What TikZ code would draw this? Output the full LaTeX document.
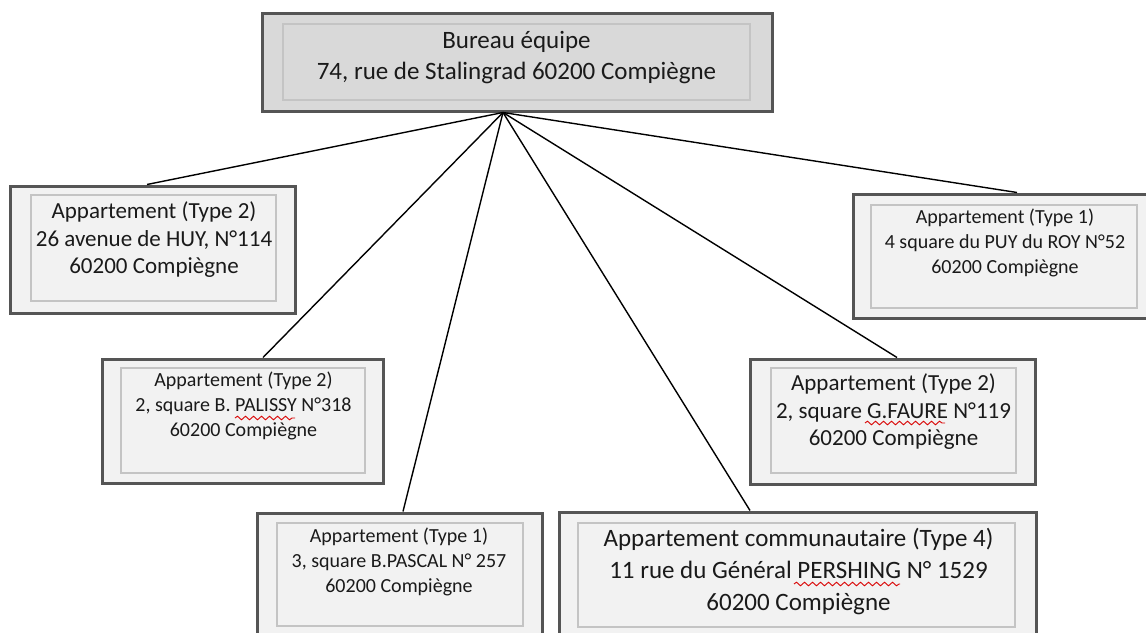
\documentclass[tikz,border=0pt]{standalone}
\usepackage{fontspec}
\setmainfont{Carlito}
\usetikzlibrary{decorations.pathmorphing}
\definecolor{outerc}{HTML}{555555}
\definecolor{innerc}{HTML}{C4C4C4}
\definecolor{topfill}{HTML}{D9D9D9}
\definecolor{aptfill}{HTML}{F2F2F2}
\definecolor{txtc}{HTML}{1A1A1A}
\tikzset{
  outerbox/.style={draw=outerc, line width=3pt, fill=aptfill, rectangle, inner sep=0pt},
  topouter/.style={outerbox, fill=topfill},
  innerbox/.style={draw=innerc, line width=1.6pt, rectangle, inner sep=0pt},
  txt/.style={align=center, inner sep=0pt, text=txtc},
  fbig/.style={font=\fontsize{25}{31}\selectfont},
  fmid/.style={font=\fontsize{23}{27.5}\selectfont},
  fsmall/.style={font=\fontsize{20}{25}\selectfont},
  link/.style={draw=black, line width=1.4pt},
  squig/.style={draw=red!85!black, line width=0.9pt, decorate, decoration={snake, amplitude=1.8pt, segment length=8pt}}
}
\begin{document}
\begin{tikzpicture}[x=1pt,y=-1pt]
\useasboundingbox[fill=white] (0,0) rectangle (1146,632);
% top box
\node[topouter, minimum width=510pt, minimum height=98pt] (top) at (517,62) {};
\node[innerbox, minimum width=467pt, minimum height=76pt] (topin) at (516.5,62) {};
\node[txt, fbig] (toptxt) at (516.5,57.5) {Bureau équipe\\74, rue de Stalingrad 60200 Compiègne};
% box HUY
\node[outerbox, minimum width=285pt, minimum height=127pt] (huy) at (152.5,249.5) {};
\node[innerbox, minimum width=245pt, minimum height=106pt] (huyin) at (153.5,248) {};
\node[txt, fmid] (huytxt) at (154,240) {Appartement (Type 2)\\26 avenue de HUY, N°114\\60200 Compiègne};
% box PUY
\node[outerbox, minimum width=302pt, minimum height=124pt] (puy) at (1004,256) {};
\node[innerbox, minimum width=266pt, minimum height=103pt] (puyin) at (1004,256.5) {};
\node[txt, fsmall] (puytxt) at (1005,243) {Appartement (Type 1)\\4 square du PUY du ROY N°52\\60200 Compiègne};
% box PALISSY
\node[outerbox, minimum width=281pt, minimum height=124pt] (pal) at (242.5,421) {};
\node[innerbox, minimum width=244pt, minimum height=105pt] (palin) at (243,420.5) {};
\node[txt, fsmall] (paltxt) at (243.5,406) {Appartement (Type 2)\\2, square B. PALISSY N°318\\60200 Compiègne};
% box FAURE
\node[outerbox, minimum width=285pt, minimum height=125pt] (fau) at (892.5,421.5) {};
\node[innerbox, minimum width=245pt, minimum height=105pt] (fauin) at (893.5,420.5) {};
\node[txt, fmid] (fautxt) at (893.5,412) {Appartement (Type 2)\\2, square G.FAURE N°119\\60200 Compiègne};
% box PASCAL
\node[outerbox, minimum width=285pt, minimum height=137pt] (pas) at (399.5,581.5) {};
\node[innerbox, minimum width=246pt, minimum height=103pt] (pasin) at (400,574.5) {};
\node[txt, fsmall] (pastxt) at (399,561.5) {Appartement (Type 1)\\3, square B.PASCAL N° 257\\60200 Compiègne};
% box PERSHING
\node[outerbox, minimum width=477pt, minimum height=138pt] (per) at (797.5,581) {};
\node[innerbox, minimum width=437pt, minimum height=104pt] (perin) at (796.5,575) {};
\node[txt, fbig, font=\fontsize{25}{32}\selectfont] (pertxt) at (798.5,571) {Appartement communautaire (Type 4)\\11 rue du Général PERSHING N° 1529\\60200 Compiègne};
% connectors
\coordinate (hub) at ([xshift=-14pt]top.south);
\draw[link] (hub) -- ([xshift=-5.5pt]huy.north);
\draw[link] (hub) -- ([xshift=20.5pt]pal.north);
\draw[link] (hub) -- ([xshift=3.5pt]pas.north);
\draw[link] (hub) -- ([xshift=-47.5pt]per.north);
\draw[link] (hub) -- ([xshift=4.5pt]fau.north);
\draw[link] (hub) -- ([xshift=13pt]puy.north);
% spell-check marks
\draw[squig] (235,418) -- (295,418);
\draw[squig] (865,423) -- (945,423);
\draw[squig] (794,584) -- (900,584);
\end{tikzpicture}
\end{document}
